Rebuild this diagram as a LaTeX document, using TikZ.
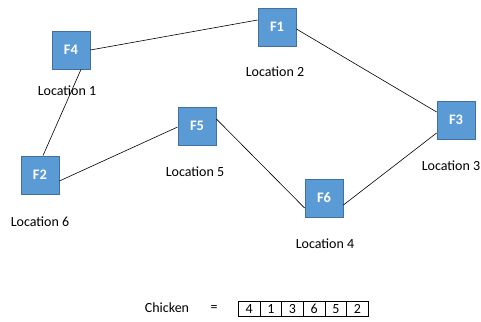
\documentclass[tikz,border=0pt]{standalone}
\usepackage{fontspec}
\setmainfont{Carlito}
\begin{document}
\begin{tikzpicture}[x=1pt,y=-1pt,
  fbox/.style={draw=fborder, fill=fblue, minimum width=38pt, minimum height=38pt, inner sep=0pt, text=white, font=\fontsize{14.5}{16}\selectfont\bfseries, line width=0.8pt},
  loc/.style={font=\fontsize{14}{16}\selectfont, inner sep=0pt},
  link/.style={draw=black, line width=0.6pt},
  cell/.style={draw=black, line width=0.6pt, minimum width=21.67pt, minimum height=15pt, inner sep=0pt, font=\fontsize{14}{16}\selectfont, anchor=north west}]
\definecolor{fblue}{HTML}{5B9BD5}
\definecolor{fborder}{HTML}{41719C}
\useasboundingbox (0,0) rectangle (481,321);
\node[fbox] (F4) at (71,50) {F4};
\node[fbox] (F1) at (277,27) {F1};
\node[fbox] (F3) at (456,120) {F3};
\node[fbox] (F2) at (40,175) {F2};
\node[fbox] (F5) at (197,126) {F5};
\node[fbox] (F6) at (324,198) {F6};
\node[loc] (L1) at (67,91) {Location 1};
\node[loc] (L2) at (275,72) {Location 2};
\node[loc] (L3) at (451,166) {Location 3};
\node[loc] (L4) at (325,244) {Location 4};
\node[loc] (L5) at (195,172) {Location 5};
\node[loc] (L6) at (40,222) {Location 6};
\draw[link] (F4.east) -- ([yshift=7pt]F1.west);
\draw[link] ([yshift=-2pt]F1.east) -- ([yshift=8pt]F3.west);
\draw[link] ([xshift=10pt]F4.south) -- ([xshift=3pt]F2.north);
\draw[link] ([yshift=-6pt]F2.east) -- ([yshift=-1pt]F5.west);
\draw[link] ([yshift=7pt]F5.east) -- ([yshift=-10pt]F6.west);
\draw[link] ([yshift=-7pt]F6.east) -- ([yshift=-13pt]F3.west);
\node[loc] (ch) at (167,308) {Chicken};
\node[loc] (eq) at (214,308) {=};
\foreach \v [count=\i] in {4,1,3,6,5,2}{
  \node[cell] (c\i) at ({238+(\i-1)*21.67},301) {\v};
}
\draw[line width=1.4pt] (c1.south west) -- (c6.south east);
\end{tikzpicture}
\end{document}
